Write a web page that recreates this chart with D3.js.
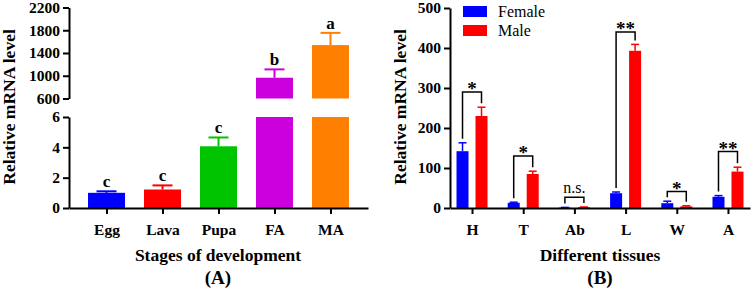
<!DOCTYPE html>
<meta charset="utf-8">
<script src="https://d3js.org/d3.v7.js"></script>
<style>
  body { margin: 0; background: #fff; }
  text { font-family: "Liberation Serif", "Times New Roman", serif; font-weight: bold; fill: #000; }
  .axis text { font-size: 15.5px; font-weight: bold; }
  .axis path, .axis line { stroke: #000; stroke-width: 2; }
</style>
<div id="chart"></div>
<script>
// ---- panel A data
var stages = ["Egg", "Lava", "Pupa", "FA", "MA"];
var stageMean = [1.0, 1.22, 4.07, 965, 1539];
var stageSd = [0.1, 0.27, 0.58, 147, 215];
var stageLetters = ["c", "c", "c", "b", "a"];
var stageColors = ["#0000ff", "#ff0000", "#00c400", "#cc00dd", "#ff8000"];
var lowTicks = [0, 2, 4, 6];
var highTicks = [600, 1000, 1400, 1800, 2200];

// ---- panel B data
var tissues = ["H", "T", "Ab", "L", "W", "A"];
var femaleMean = [142, 13, 1, 37, 12, 28];
var femaleSd = [21, 1.5, 0.5, 3, 5, 3];
var maleMean = [230, 85, 2, 393, 4, 91];
var maleSd = [22, 7, 0.5, 16, 1.5, 11];
var bracketTop = [290, 130, 27, 440, 41, 141];
var sigLabels = ["*", "*", "n.s.", "**", "*", "**"];
var tissueTicks = [0, 100, 200, 300, 400, 500];

var svg = d3.select("#chart").append("svg")
  .attr("width", 754).attr("height", 291);

// ================= Panel A =================
var xA = d3.scalePoint().domain(stages).range([69, 368]).padding(0.67);
var yLow = d3.scaleLinear().domain([0, 6]).range([208, 117]);
var yHigh = d3.scaleLinear().domain([600, 2200]).range([98.5, 7.5]);
var barW = 37;

var gA = svg.append("g");
stages.forEach(function(s, i) {
  var cx = xA(s), v = stageMean[i], top = v + stageSd[i];
  var col = stageColors[i];
  var errY;
  if (v <= 6) {
    gA.append("rect").attr("x", cx - barW / 2).attr("width", barW)
      .attr("y", yLow(v)).attr("height", yLow(0) - yLow(v)).attr("fill", col);
    errY = yLow(top);
    gA.append("line").attr("x1", cx).attr("x2", cx)
      .attr("y1", yLow(v)).attr("y2", errY).attr("stroke", col).attr("stroke-width", 2);
  } else {
    gA.append("rect").attr("x", cx - barW / 2).attr("width", barW)
      .attr("y", yLow(6)).attr("height", yLow(0) - yLow(6)).attr("fill", col);
    gA.append("rect").attr("x", cx - barW / 2).attr("width", barW)
      .attr("y", yHigh(v)).attr("height", yHigh(600) - yHigh(v)).attr("fill", col);
    errY = yHigh(top);
    gA.append("line").attr("x1", cx).attr("x2", cx)
      .attr("y1", yHigh(v)).attr("y2", errY).attr("stroke", col).attr("stroke-width", 2);
  }
  gA.append("line").attr("x1", cx - 10).attr("x2", cx + 10)
    .attr("y1", errY).attr("y2", errY).attr("stroke", col).attr("stroke-width", 2);
  gA.append("text").attr("x", cx).attr("y", errY - 4)
    .attr("text-anchor", "middle").style("font-size", "17px").text(stageLetters[i]);
});

gA.append("g").attr("class", "axis").attr("transform", "translate(69,0)")
  .call(d3.axisLeft(yLow).tickValues(lowTicks).tickFormat(d3.format("d"))
    .tickSize(6).tickSizeOuter(0).tickPadding(3));
gA.append("g").attr("class", "axis").attr("transform", "translate(69,0)")
  .call(d3.axisLeft(yHigh).tickValues(highTicks).tickFormat(d3.format("d"))
    .tickSize(6).tickSizeOuter(0).tickPadding(3));
gA.append("g").attr("class", "axis").attr("transform", "translate(0,208)")
  .call(d3.axisBottom(xA).tickSize(6).tickSizeOuter(0).tickPadding(10));

gA.append("text").attr("transform", "translate(15,107) rotate(-90)")
  .attr("text-anchor", "middle").style("font-size", "17.5px").text("Relative mRNA level");
gA.append("text").attr("x", 218).attr("y", 261)
  .attr("text-anchor", "middle").style("font-size", "17.5px").text("Stages of development");
gA.append("text").attr("x", 218).attr("y", 284)
  .attr("text-anchor", "middle").style("font-size", "19px").text("(A)");

// ================= Panel B =================
var xB = d3.scalePoint().domain(tissues).range([450, 750]).padding(0.43);
var yB = d3.scaleLinear().domain([0, 500]).range([208, 8]);
var bw = 12, off = 9.5, gap = 4;
var gB = svg.append("g");

var series = [
  {name: "Female", mean: femaleMean, sd: femaleSd, color: "#0000ff", dx: -off},
  {name: "Male", mean: maleMean, sd: maleSd, color: "#ff0000", dx: off}
];

series.forEach(function(s) {
  tissues.forEach(function(t, i) {
    var cx = xB(t) + s.dx, v = s.mean[i], e = yB(v + s.sd[i]);
    gB.append("rect").attr("x", cx - bw / 2).attr("width", bw)
      .attr("y", yB(v)).attr("height", yB(0) - yB(v)).attr("fill", s.color);
    gB.append("line").attr("x1", cx).attr("x2", cx).attr("y1", yB(v)).attr("y2", e)
      .attr("stroke", s.color).attr("stroke-width", 1.5);
    gB.append("line").attr("x1", cx - 4).attr("x2", cx + 4).attr("y1", e).attr("y2", e)
      .attr("stroke", s.color).attr("stroke-width", 1.5);
  });
});

// significance brackets
tissues.forEach(function(t, i) {
  var xl = xB(t) - off, xr = xB(t) + off, yt = yB(bracketTop[i]);
  var yl = yB(femaleMean[i] + femaleSd[i]) - gap;
  var yr = yB(maleMean[i] + maleSd[i]) - gap;
  gB.append("path")
    .attr("d", "M" + xl + "," + yl + "V" + yt + "H" + xr + "V" + yr)
    .attr("fill", "none").attr("stroke", "#000").attr("stroke-width", 1.5);
  var ns = sigLabels[i] === "n.s.";
  gB.append("text").attr("x", xB(t)).attr("y", ns ? yt - 4 : yt + 3)
    .attr("text-anchor", "middle")
    .style("font-size", ns ? "16px" : "19px")
    .style("font-weight", ns ? "normal" : "bold")
    .text(sigLabels[i]);
});

gB.append("g").attr("class", "axis").attr("transform", "translate(450,0)")
  .call(d3.axisLeft(yB).tickValues(tissueTicks).tickFormat(d3.format("d"))
    .tickSize(6).tickSizeOuter(0).tickPadding(3));
gB.append("g").attr("class", "axis").attr("transform", "translate(0,208)")
  .call(d3.axisBottom(xB).tickSize(6).tickSizeOuter(0).tickPadding(10));

gB.append("text").attr("transform", "translate(406,107) rotate(-90)")
  .attr("text-anchor", "middle").style("font-size", "17.5px").text("Relative mRNA level");
gB.append("text").attr("x", 600).attr("y", 261)
  .attr("text-anchor", "middle").style("font-size", "17.5px").text("Different tissues");
gB.append("text").attr("x", 600).attr("y", 284)
  .attr("text-anchor", "middle").style("font-size", "19px").text("(B)");

// legend
series.forEach(function(s, i) {
  var ly = 6 + i * 19;
  gB.append("rect").attr("x", 463).attr("y", ly).attr("width", 24).attr("height", 11)
    .attr("fill", s.color);
  gB.append("text").attr("x", 498).attr("y", ly + 11)
    .style("font-size", "16px").style("font-weight", "normal").text(s.name);
});
</script>
